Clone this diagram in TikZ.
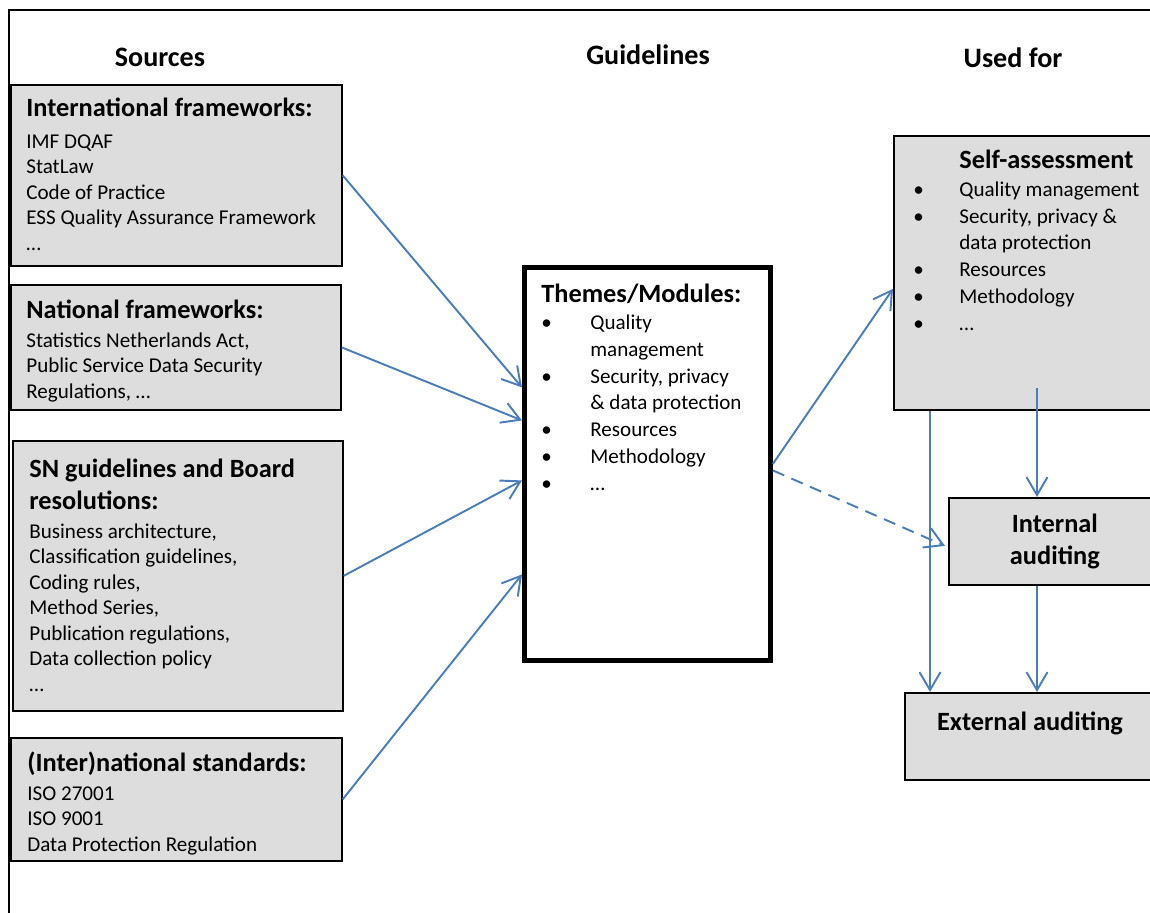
\documentclass[tikz,border=0pt]{standalone}
\usepackage{fontspec}
\setmainfont{Carlito}
\usepackage{tikz}
\usetikzlibrary{arrows.meta,positioning,calc}
\definecolor{flowBlue}{HTML}{4A7EBB}
\definecolor{boxGray}{HTML}{DDDDDD}
\newcommand{\headfont}{\fontsize{15}{18.1}\bfseries\selectfont}
\newcommand{\bul}[1][0.98cm]{\makebox[#1][l]{\textbullet}}
\newcommand{\ind}[1][0.98cm]{\makebox[#1]{}}
\tikzset{
  grayBox/.style = {draw=black, fill=boxGray, line width=1pt, inner sep=0pt, anchor=north west},% bronnen en gebruik
  themeBox/.style = {draw=black, line width=2.8pt, inner sep=0pt, anchor=north west},% richtlijnen
  boxText/.style = {anchor=base west, align=left, inner sep=0pt, font=\fontsize{12}{14.5}\selectfont},% placed at last line
  listText/.style = {boxText, font=\fontsize{12}{15.2}\selectfont},
  colTitle/.style = {anchor=base, inner sep=0pt, font=\fontsize{16}{19}\bfseries\selectfont},
  flow/.style = {->, draw=flowBlue, line width=1.1pt},
}
\begin{document}
\begin{tikzpicture}[x=0.02cm, y=-0.02cm, >={Straight Barb[length=0.36cm,width=0.42cm]}]
\clip (0,0) rectangle (1150,913);
\draw[line width=1pt] (9,930) -- (9,10) -- (1170,10);
% column titles
\node[colTitle] (srcTitle) at (160,66) {Sources};
\node[colTitle] (glTitle) at (648,64) {Guidelines};
\node[colTitle] (useTitle) at (1013,67) {Used for};
% sources
\node[grayBox, minimum width=6.62cm, minimum height=3.62cm] (intl) at (10,84) {};
\node[boxText] (intlText) at (26,250) {{\headfont International frameworks:}\\[3.6pt]
  IMF DQAF\\ StatLaw\\ Code of Practice\\ ESS Quality Assurance Framework\\ …};
\node[grayBox, minimum width=6.6cm, minimum height=2.5cm] (natl) at (10,284) {};
\node[boxText] (natlText) at (26,398) {{\headfont National frameworks:}\\[1.5pt]
  Statistics Netherlands Act,\\ Public Service Data Security\\ Regulations, …};
\node[grayBox, minimum width=6.6cm, minimum height=5.4cm] (board) at (12,440) {};
\node[boxText] (boardText) at (29,691) {{\headfont SN guidelines and Board}\\[3.6pt]
  {\headfont resolutions:}\\[1.8pt]
  Business architecture,\\ Classification guidelines,\\ Coding rules,\\ Method Series,\\
  Publication regulations,\\ Data collection policy\\ …};
\node[grayBox, minimum width=6.62cm, minimum height=2.46cm] (stds) at (10,737) {};
\node[boxText] (stdsText) at (27,851) {{\headfont (Inter)national standards:}\\[1.5pt]
  ISO 27001\\ ISO 9001\\ Data Protection Regulation};
% guidelines
\node[themeBox, minimum width=4.92cm, minimum height=7.86cm] (mods) at (522,265) {};
\node[listText] (modsText) at (541,490) {{\headfont Themes/Modules:}\\[0.6pt]
  \bul Quality\\ \ind management\\ \bul Security, privacy\\ \ind \& data protection\\
  \bul Resources\\ \bul Methodology\\ \bul …};
% used for
\node[grayBox, minimum width=5.44cm, minimum height=5.48cm] (self) at (893,135) {};
\node[listText] (selfText) at (913,330) {\ind[0.92cm]{\headfont Self-assessment}\\[0.6pt]
  \bul[0.92cm]Quality management\\ \bul[0.92cm]Security, privacy \&\\ \ind[0.92cm]data protection\\
  \bul[0.92cm]Resources\\ \bul[0.92cm]Methodology\\ \bul[0.92cm]…};
\node[grayBox, minimum width=4.24cm, minimum height=1.74cm, align=center, font=\headfont] (intaud) at (948,497) {Internal\\ auditing};
\node[grayBox, minimum width=5.04cm, minimum height=1.74cm] (extaud) at (904,692) {};
\node[anchor=base, inner sep=0pt, font=\headfont] (extText) at (1030,730) {External auditing};
% connectors
\draw[flow] (intl.east) -- ([yshift=1.53cm]mods.west);
\draw[flow] (natl.east) -- ([yshift=0.87cm]mods.west);
\draw[flow] (board.east) -- ([yshift=-0.33cm]mods.west);
\draw[flow] (stds.east) -- ([yshift=-2.21cm]mods.west);
\draw[flow] (mods.east) -- ([yshift=-0.32cm]self.west);
\draw[flow, dash pattern=on 7pt off 4.5pt] ([yshift=-0.13cm]mods.east) -- ([yshift=-0.09cm, xshift=-0.06cm]intaud.west);
\draw[flow] ([xshift=0.74cm]self.south west) -- ([xshift=0.74cm]self.south west |- extaud.north);
\coordinate (selfDown) at (1037,388);
\draw[flow] (selfDown) -- (selfDown |- intaud.north);
\draw[flow] (selfDown |- intaud.south) -- (selfDown |- extaud.north);
\end{tikzpicture}
\end{document}
